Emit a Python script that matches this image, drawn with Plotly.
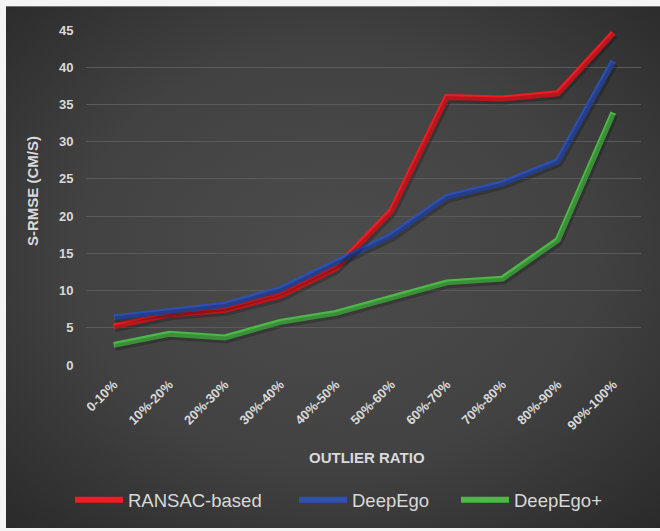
import base64
import plotly.graph_objects as go

categories = ["0-10%", "10%-20%", "20%-30%", "30%-40%", "40%-50%",
              "50%-60%", "60%-70%", "70%-80%", "80%-90%", "90%-100%"]
ransac = [5.2, 6.8, 7.4, 9.3, 13.0, 20.7, 36.0, 35.8, 36.5, 44.6]
deepego = [6.4, 7.3, 8.1, 10.2, 13.9, 17.4, 22.6, 24.4, 27.4, 40.8]
deepego_plus = [2.7, 4.2, 3.7, 5.8, 7.0, 9.0, 11.1, 11.6, 16.8, 33.9]
y_ticks = [0, 5, 10, 15, 20, 25, 30, 35, 40, 45]

series = [
    ("RANSAC-based", ransac, "#ee1d25"),
    ("DeepEgo", deepego, "#3050b0"),
    ("DeepEgo+", deepego_plus, "#4cb848"),
]
legend_px = [70, 294, 456]  # left pixel of each legend entry

FONT = "Liberation Sans, Arial, sans-serif"
TXT = "#d9d9d9"

W, H = 660, 531
ml, mr, mt, mb = 86, 19, 30, 164
pw, ph = W - ml - mr, H - mt - mb

svg = ('<svg xmlns="http://www.w3.org/2000/svg" width="654" height="525" viewBox="0 0 654 525" preserveAspectRatio="none">'
       '<defs><radialGradient id="g" cx="50%" cy="48%" r="72%">'
       '<stop offset="0%" stop-color="#4c4c4c"/><stop offset="55%" stop-color="#424242"/>'
       '<stop offset="100%" stop-color="#2a2a2a"/></radialGradient></defs>'
       '<rect width="654" height="525" fill="url(#g)"/></svg>')
src = "data:image/svg+xml;base64," + base64.b64encode(svg.encode()).decode()

fig = go.Figure()

# soft drop shadows on overlay axes shifted by a couple of pixels
dx = 1.5 / (pw / len(categories))
dy = 2.5 / (ph / 45.0)
for name, vals, color in series:
    fig.add_trace(go.Scatter(x=categories, y=vals, mode="lines", xaxis="x2", yaxis="y2",
                             line=dict(color="rgba(0,0,0,0.22)", width=7),
                             showlegend=False, hoverinfo="skip"))
legend_names = ["legend", "legend2", "legend3"]
for (name, vals, color), lg in zip(series, legend_names):
    fig.add_trace(go.Scatter(x=categories, y=vals, mode="lines", name=name, legend=lg,
                             line=dict(color=color, width=6)))

legend_common = dict(orientation="h", xanchor="left", y=(H - mb - 503) / ph, yanchor="middle",
                     font=dict(family=FONT, size=18.5, color=TXT),
                     bgcolor="rgba(0,0,0,0)", itemwidth=48)
legends = {}
for lg, px in zip(legend_names, legend_px):
    legends[lg] = dict(legend_common, x=(px - ml) / pw)

fig.update_layout(
    width=W, height=H,
    margin=dict(l=ml, r=mr, t=mt, b=mb),
    paper_bgcolor="#f4f4f4",
    plot_bgcolor="rgba(0,0,0,0)",
    font=dict(family=FONT, color=TXT),
    images=[dict(source=src, xref="paper", yref="paper",
                 x=(6 - ml) / pw, y=(H - mb - 6) / ph,
                 sizex=(W - 6) / pw, sizey=(H - 6) / ph,
                 xanchor="left", yanchor="top", sizing="stretch", layer="below")],
    xaxis=dict(type="category", range=[-0.5, len(categories) - 0.5],
               showgrid=False, zeroline=False, showline=False,
               tickangle=-45, ticks="outside", ticklen=6, tickcolor="rgba(0,0,0,0)",
               tickfont=dict(family=FONT, size=13, color=TXT, weight="bold")),
    yaxis=dict(range=[0, 45], tickvals=y_ticks, showgrid=True, gridcolor="#5a5a5a", gridwidth=1.2,
               zeroline=False, showline=False, ticks="outside", ticklen=9, tickcolor="rgba(0,0,0,0)",
               tickfont=dict(family=FONT, size=13, color=TXT, weight="bold")),
    xaxis2=dict(type="category", overlaying="x", range=[-0.5 - dx, len(categories) - 0.5 - dx],
                visible=False),
    yaxis2=dict(overlaying="y", range=[dy, 45 + dy], visible=False),
    showlegend=True,
    annotations=[
        dict(text="OUTLIER RATIO", xref="paper", yref="paper", x=(367 - ml) / pw,
             y=(H - mb - 460) / ph, xanchor="center", yanchor="middle", showarrow=False,
             font=dict(family=FONT, size=15, color=TXT, weight="bold")),
        dict(text="S-RMSE (CM/S)", xref="paper", yref="paper", x=(32 - ml) / pw,
             y=(H - mb - 192) / ph, xanchor="center", yanchor="middle", showarrow=False,
             textangle=-90, font=dict(family=FONT, size=15, color=TXT, weight="bold")),
    ],
    **legends,
)

fig.write_html("out.html")
